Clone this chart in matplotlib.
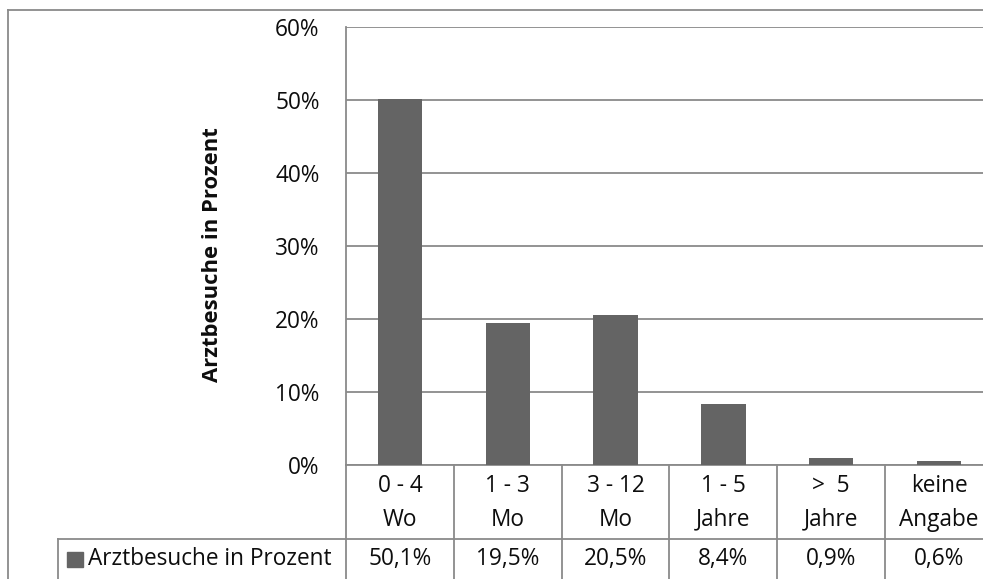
import matplotlib
matplotlib.use("Agg")
import matplotlib.pyplot as plt
from matplotlib.patches import Rectangle
from matplotlib.lines import Line2D
from matplotlib.transforms import blended_transform_factory

# Daten
kategorien = ["0 - 4\nWo", "1 - 3\nMo", "3 - 12\nMo", "1 - 5\nJahre", ">  5\nJahre", "keine\nAngabe"]
werte = [50.1, 19.5, 20.5, 8.4, 0.9, 0.6]
reihe = "Arztbesuche in Prozent"
y_ticks = [0, 10, 20, 30, 40, 50, 60]

plt.rcParams["font.family"] = ["Open Sans", "DejaVu Sans"]
FS = 16.3
TEXT = "#0d0d0d"
GRAU = "#8a8a8a"
BALKEN = "#646464"

W, H = 983, 579
fig = plt.figure(figsize=(W / 100, H / 100), dpi=100)


def fx(px):
    return px / W


def fy(py):
    return 1 - py / H


# Diagrammfläche (rechts über den Rand hinaus)
ax = fig.add_axes([fx(346), fy(465), fx(993 - 346), (465 - 27) / H])
x = list(range(len(werte)))
ax.bar(x, werte, width=0.41, color=BALKEN, zorder=3)
ax.set_xlim(-0.5, len(werte) - 0.5)
ax.set_ylim(0, 60)
ax.set_yticks(y_ticks)
ax.set_yticklabels([f"{v}%" for v in y_ticks], fontsize=FS, color=TEXT)
ax.set_xticks([])
ax.tick_params(axis="y", length=0, pad=19)
ax.yaxis.grid(True, color=GRAU, lw=1.3, zorder=0)
for s in ["top", "right"]:
    ax.spines[s].set_visible(False)
for s in ["left", "bottom"]:
    ax.spines[s].set_color(GRAU)
    ax.spines[s].set_linewidth(1.3)

fig.text(fx(213), fy(255), reihe, rotation=90, fontsize=15.8, fontweight="bold",
         ha="center", va="center", color=TEXT)

# Datentabelle unter der Achse
tr = blended_transform_factory(ax.transData, fig.transFigure)
y_kopf_unten = fy(539)
y_tab_unten = fy(620)
for i in range(len(werte) + 1):
    ax.add_line(Line2D([i - 0.5, i - 0.5], [fy(465), y_tab_unten], transform=tr,
                       color=GRAU, lw=1.3, clip_on=False))
fig.add_artist(Line2D([fx(58), 1], [y_kopf_unten, y_kopf_unten], color=GRAU, lw=1.3))
fig.add_artist(Line2D([fx(58), fx(58)], [y_kopf_unten, y_tab_unten], color=GRAU, lw=1.3))

for i, (k, v) in enumerate(zip(kategorien, werte)):
    ax.text(i, fy(503), k, transform=tr, ha="center", va="center", fontsize=FS,
            linespacing=1.5, color=TEXT, clip_on=False)
    ax.text(i, fy(559), f"{v:.1f}%".replace(".", ","), transform=tr, ha="center",
            va="center", fontsize=FS, color=TEXT, clip_on=False)

# Legendenschlüssel in der Tabelle
fig.add_artist(Rectangle((fx(67), fy(567)), fx(16), 15 / H, color=BALKEN))
fig.text(fx(88), fy(559), reihe, ha="left", va="center", fontsize=FS, color=TEXT)

# Rahmen des Diagramms
fig.add_artist(Line2D([fx(8), 1], [fy(10), fy(10)], color=GRAU, lw=1.3))
fig.add_artist(Line2D([fx(8), fx(8)], [fy(10), 0], color=GRAU, lw=1.3))

fig.savefig("out.png", dpi=100)
